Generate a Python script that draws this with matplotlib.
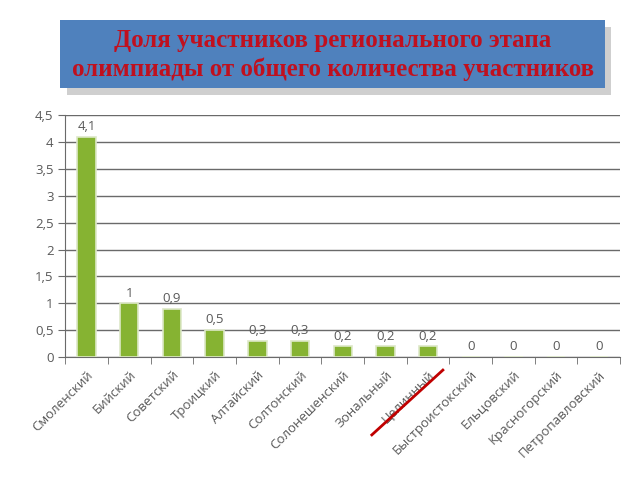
import matplotlib.pyplot as plt
import matplotlib.patches as mpatches
from matplotlib.lines import Line2D
import numpy as np

# Data
districts = ["Смоленский", "Бийский", "Советский", "Троицкий", "Алтайский",
             "Солтонский", "Солонешенский", "Зональный", "Целинный",
             "Быстроистокский", "Ельцовский", "Красногорский", "Петропавловский"]
shares = [4.1, 1.0, 0.9, 0.5, 0.3, 0.3, 0.2, 0.2, 0.2, 0.0, 0.0, 0.0, 0.0]
y_ticks = [0, 0.5, 1, 1.5, 2, 2.5, 3, 3.5, 4, 4.5]
title = "Доля участников регионального этапа\nолимпиады от общего количества участников"

plt.rcParams.update({
    "font.family": ["Open Sans", "DejaVu Sans"],
    "font.size": 9,
})

TXT = "#595959"


def fmt(v):
    return f"{v:g}".replace(".", ",")


fig = plt.figure(figsize=(6.4, 4.8), dpi=100)
ax = fig.add_axes([0.102, 0.256, 0.867, 0.504])

x = np.arange(len(districts))
ax.bar(x, shares, width=0.43, color="#86B332", edgecolor="#DDE8C8",
       linewidth=1.2, zorder=3)
for xi, v in zip(x, shares):
    ax.text(xi, v + 0.07, fmt(v), ha="center", va="bottom",
            color=TXT, fontsize=9.5, zorder=4)

ax.set_xlim(-0.5, len(districts) - 0.5)
ax.set_ylim(0, 4.5)
ax.set_yticks(y_ticks)
ax.set_yticklabels([fmt(t) for t in y_ticks], color=TXT, fontsize=9.5)
ax.yaxis.grid(True, color="#6A6A6A", linewidth=1.0, zorder=0)
ax.set_axisbelow(True)

ax.set_xticks(x)
ax.set_xticklabels(districts, rotation=45, ha="right", rotation_mode="anchor",
                   color=TXT, fontsize=9.5)
ax.set_xticks(np.arange(-0.5, len(districts)), minor=True)
ax.tick_params(axis="x", which="major", length=0, pad=8)
ax.tick_params(axis="x", which="minor", length=5, color="#6A6A6A")
ax.tick_params(axis="y", length=5, color="#6A6A6A")

for side in ["top", "right"]:
    ax.spines[side].set_visible(False)
ax.spines["left"].set_color("#6A6A6A")
ax.spines["bottom"].set_color("#6A6A6A")

# title box with shadow
shadow = mpatches.Rectangle((0.104, 0.802), 0.851, 0.142, transform=fig.transFigure,
                            facecolor="#A8A8A8", alpha=0.55, edgecolor="none", zorder=1)
box = mpatches.Rectangle((0.094, 0.817), 0.851, 0.142, transform=fig.transFigure,
                         facecolor="#4F81BD", edgecolor="none", zorder=2)
fig.patches.extend([shadow, box])
fig.text(0.52, 0.886, title, ha="center", va="center", color="#C0101E",
         fontsize=18, fontweight="bold", family="Liberation Serif",
         linespacing=1.3, zorder=3)

# red strike through one label
fig.lines.append(Line2D([0.581, 0.692], [0.094, 0.229], transform=fig.transFigure,
                        color="#C00000", linewidth=2))

fig.savefig("out.png", dpi=100)
